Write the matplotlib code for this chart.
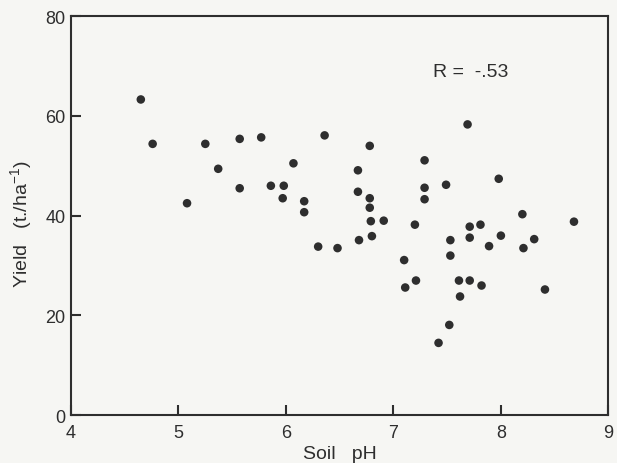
import matplotlib
matplotlib.use("Agg")
import matplotlib.pyplot as plt

# soil pH vs yield
soil_ph = [4.65, 4.76, 5.08, 5.25, 5.37, 5.57, 5.57, 5.77, 5.86, 5.98,
           5.97, 6.07, 6.17, 6.17, 6.30, 6.36, 6.48, 6.67, 6.67, 6.68,
           6.78, 6.78, 6.78, 6.79, 6.80, 6.91, 7.10, 7.11, 7.20, 7.21,
           7.29, 7.29, 7.29, 7.42, 7.49, 7.52, 7.53, 7.53, 7.61, 7.62,
           7.69, 7.71, 7.71, 7.71, 7.81, 7.82, 7.89, 7.98, 8.00, 8.20,
           8.21, 8.31, 8.41, 8.68]
yield_t = [63.3, 54.4, 42.5, 54.4, 49.4, 55.4, 45.5, 55.7, 46.0, 46.0,
           43.5, 50.5, 42.9, 40.7, 33.8, 56.1, 33.5, 49.1, 44.8, 35.1,
           54.0, 43.5, 41.6, 38.9, 35.9, 39.0, 31.1, 25.6, 38.2, 27.0,
           51.1, 45.6, 43.3, 14.5, 46.2, 18.1, 35.1, 32.0, 27.0, 23.8,
           58.3, 37.8, 35.6, 27.0, 38.2, 26.0, 33.9, 47.4, 36.0, 40.3,
           33.5, 35.3, 25.2, 38.8]

x_ticks = [4, 5, 6, 7, 8, 9]
y_ticks = [0, 20, 40, 60, 80]
r_text = "R =  -.53"

plt.rcParams['font.family'] = ['Liberation Sans', 'DejaVu Sans']
plt.rcParams['mathtext.fontset'] = 'custom'
plt.rcParams['mathtext.rm'] = 'Liberation Sans'

bg = '#f6f6f3'
ink = '#2e2e2e'

fig = plt.figure(figsize=(6.17, 4.64), dpi=100, facecolor=bg)
ax = fig.add_axes([0.115, 0.103, 0.871, 0.860], facecolor=bg)

ax.scatter(soil_ph, yield_t, s=38, c=ink, edgecolors='none', zorder=3)

ax.set_xlim(4, 9)
ax.set_ylim(0, 80)
ax.set_xticks(x_ticks)
ax.set_yticks(y_ticks)
ax.tick_params(direction='in', length=7, width=1.5, color=ink,
               labelsize=13, labelcolor=ink, pad=4)
ax.tick_params(axis='x', pad=6)
for sp in ax.spines.values():
    sp.set_color(ink)
    sp.set_linewidth(1.5)

ax.set_xlabel("Soil   pH", fontsize=14, color=ink, labelpad=3)
ax.set_ylabel("Yield   (t./ha$^{-1}$)", fontsize=14, color=ink)
ax.yaxis.set_label_coords(-0.066, 0.48)

ax.text(7.72, 69, r_text, fontsize=14, color=ink, ha='center', va='center')

fig.savefig("out.png", dpi=100, facecolor=bg)
